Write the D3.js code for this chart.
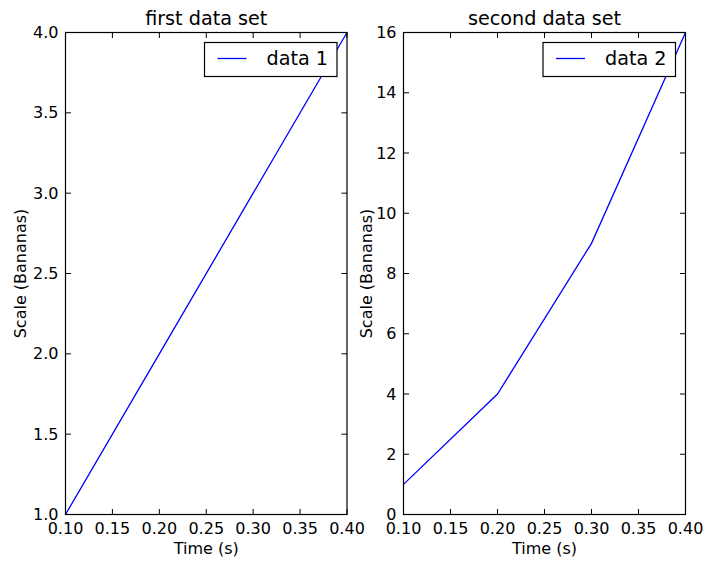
<!DOCTYPE html>
<html><head><meta charset="utf-8">
<script src="https://cdn.jsdelivr.net/npm/d3@7"></script>
<style>body{margin:0;background:#fff}text{font-family:"DejaVu Sans",sans-serif;fill:#000}</style>
</head><body>
<svg id="c" width="703" height="561"></svg>
<script>
const xValues = [0.1, 0.2, 0.3, 0.4];
const series1 = [1, 2, 3, 4];
const series2 = [1, 4, 9, 16];
const xTicks = [0.10, 0.15, 0.20, 0.25, 0.30, 0.35, 0.40];
const yTicks1 = [1.0, 1.5, 2.0, 2.5, 3.0, 3.5, 4.0];
const yTicks2 = [0, 2, 4, 6, 8, 10, 12, 14, 16];
const titles = ["first data set", "second data set"];
const legends = ["data 1", "data 2"];

(function () {
const svg = d3.select("#c");
const panels = [
  {x0: 65.5, x1: 347, ylab: 25.5, ydom: [1, 4], yticks: yTicks1, yfmt: d3.format(".1f"), data: series1, title: titles[0], leg: legends[0]},
  {x0: 403.5, x1: 685.5, ylab: 371.5, ydom: [0, 16], yticks: yTicks2, yfmt: d3.format("d"), data: series2, title: titles[1], leg: legends[1]}
];
const pTop = 32.5, pBottom = 514.5, tl = 5.5;
panels.forEach(p => {
  const x = d3.scaleLinear().domain([0.1, 0.4]).range([p.x0, p.x1]);
  const y = d3.scaleLinear().domain(p.ydom).range([pBottom, pTop]);
  const g = svg.append("g");
  g.append("path").datum(xValues.map((v, i) => [v, p.data[i]]))
    .attr("d", d3.line().x(d => x(d[0])).y(d => y(d[1])))
    .attr("fill", "none").attr("stroke", "#0000ff").attr("stroke-width", 1.3);
  g.append("rect").attr("x", p.x0).attr("y", pTop).attr("width", p.x1 - p.x0).attr("height", pBottom - pTop)
    .attr("fill", "none").attr("stroke", "#000").attr("stroke-width", 1.2);
  xTicks.forEach(t => {
    g.append("line").attr("x1", x(t)).attr("x2", x(t)).attr("y1", pBottom).attr("y2", pBottom - tl).attr("stroke", "#000");
    g.append("line").attr("x1", x(t)).attr("x2", x(t)).attr("y1", pTop).attr("y2", pTop + tl).attr("stroke", "#000");
    g.append("text").attr("x", x(t)).attr("y", pBottom + 19).attr("text-anchor", "middle")
      .attr("font-size", 16).text(d3.format(".2f")(t));
  });
  p.yticks.forEach(t => {
    g.append("line").attr("x1", p.x0).attr("x2", p.x0 + tl).attr("y1", y(t)).attr("y2", y(t)).attr("stroke", "#000");
    g.append("line").attr("x1", p.x1).attr("x2", p.x1 - tl).attr("y1", y(t)).attr("y2", y(t)).attr("stroke", "#000");
    g.append("text").attr("x", p.x0 - 7).attr("y", y(t) + 5.5).attr("text-anchor", "end")
      .attr("font-size", 16).text(p.yfmt(t));
  });
  const cx = (p.x0 + p.x1) / 2;
  g.append("text").attr("x", cx).attr("y", 25).attr("text-anchor", "middle").attr("font-size", 19.2).text(p.title);
  g.append("text").attr("x", cx).attr("y", 554).attr("text-anchor", "middle").attr("font-size", 16).text("Time (s)");
  g.append("text").attr("transform", `translate(${p.ylab},${(pTop + pBottom) / 2}) rotate(-90)`)
    .attr("text-anchor", "middle").attr("font-size", 16).text("Scale (Bananas)");
  const lx1 = p.x1 - 10, lx0 = lx1 - 132.5;
  g.append("rect").attr("x", lx0).attr("y", 42.5).attr("width", 132.5).attr("height", 34)
    .attr("fill", "#fff").attr("stroke", "#000").attr("stroke-width", 1.2);
  g.append("line").attr("x1", lx0 + 13).attr("x2", lx0 + 42).attr("y1", 58.5).attr("y2", 58.5)
    .attr("stroke", "#0000ff").attr("stroke-width", 1.3);
  g.append("text").attr("x", lx0 + 62).attr("y", 64.5).attr("font-size", 19.2).text(p.leg);
});
})();
</script>
</body></html>
